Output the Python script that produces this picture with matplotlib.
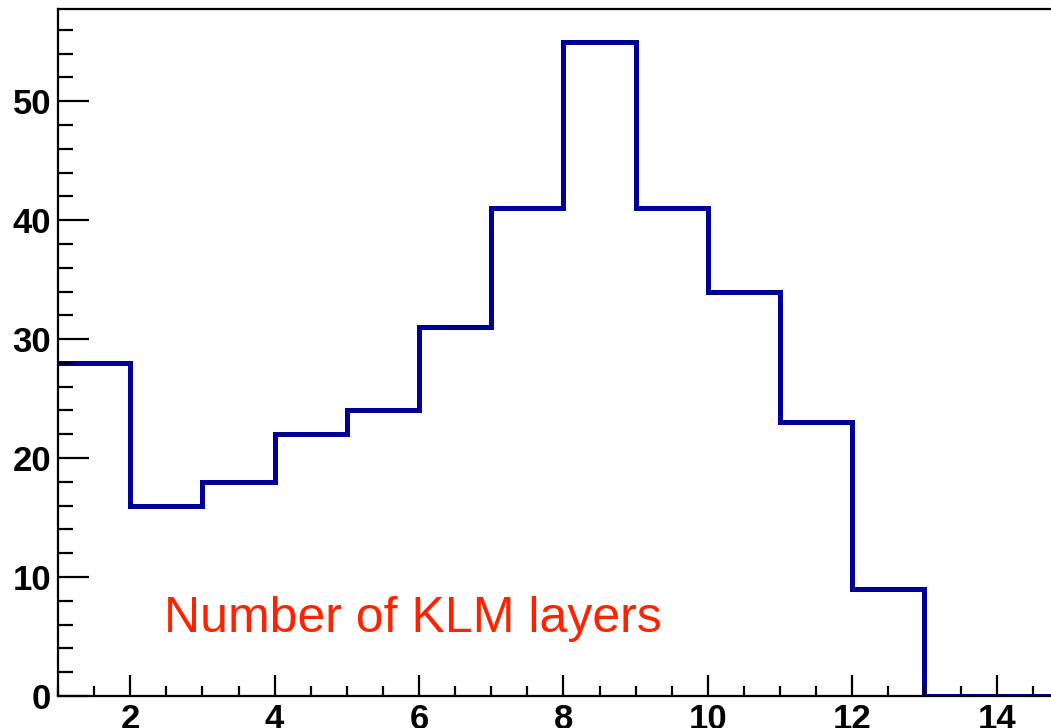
import numpy as np
import matplotlib.pyplot as plt
from matplotlib.ticker import MultipleLocator

plt.rcParams['font.family'] = ['Liberation Sans', 'DejaVu Sans']

# histogram of KLM layer counts, unit-width bins from 1 to 15
bin_edges = np.arange(1, 16)
counts = [28, 16, 18, 22, 24, 31, 41, 55, 41, 34, 23, 9, 0, 0]

W, H = 1051, 728
fig = plt.figure(figsize=(W / 100, H / 100), dpi=100)

# frame runs past the right edge of the canvas
px_per_unit = 72.2
left, bottom, top = 58.0, 696.0, 9.0
width = 14 * px_per_unit
ax = fig.add_axes([left / W, 1 - bottom / H, width / W, (bottom - top) / H])

ax.stairs(counts, bin_edges, color='#000099', linewidth=3.6, baseline=None)

ax.set_xlim(1, 15)
ax.set_ylim(0, max(counts) * 1.05)

ax.xaxis.set_major_locator(MultipleLocator(2))
ax.xaxis.set_minor_locator(MultipleLocator(0.5))
ax.yaxis.set_major_locator(MultipleLocator(10))
ax.yaxis.set_minor_locator(MultipleLocator(2))

ax.tick_params(which='both', direction='in', top=False, right=False,
               width=1.6, color='black')
ax.tick_params(axis='x', which='major', length=15, pad=5)
ax.tick_params(axis='x', which='minor', length=7.5)
ax.tick_params(axis='y', which='major', length=22, pad=5)
ax.tick_params(axis='y', which='minor', length=11)

for lbl in ax.get_xticklabels() + ax.get_yticklabels():
    lbl.set_fontsize(25)
    lbl.set_fontweight('bold')

for sp in ax.spines.values():
    sp.set_linewidth(1.6)

ax.text(164 / W, 1 - 632 / H, 'Number of KLM layers', transform=fig.transFigure,
        color='#ff2200', fontsize=36, ha='left', va='baseline')

fig.savefig('out.png', dpi=100)
